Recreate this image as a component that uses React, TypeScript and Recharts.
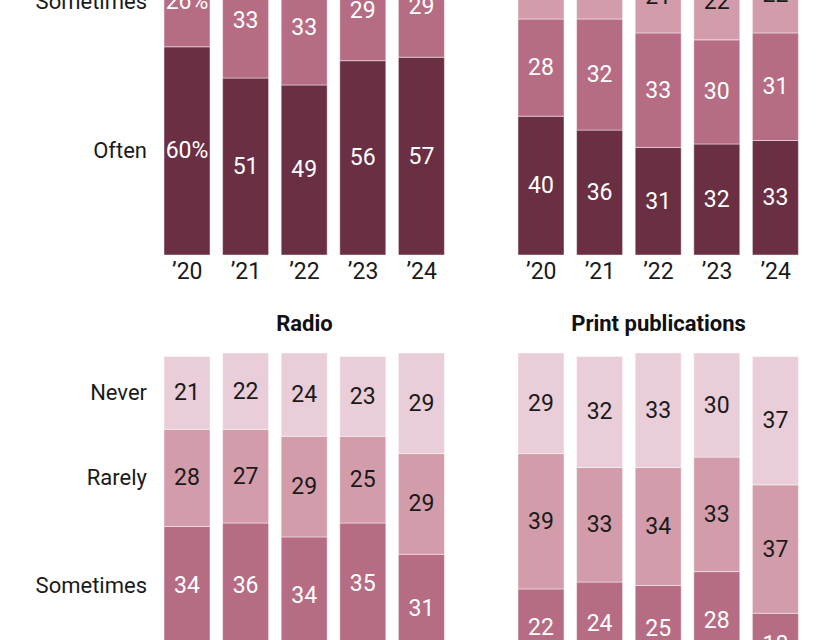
import React from "react"
import { BarChart, Bar, XAxis, YAxis, LabelList } from "recharts"

const years = ["’20", "’21", "’22", "’23", "’24"]

// top left (title cropped)
const digitalOften = [60, 51, 49, 56, 57]
const digitalSometimes = [26, 33, 33, 29, 29]
const digitalRarely = [9, 10, 11, 10, 9]
const digitalNever = [5, 6, 6, 5, 5]

// top right (title cropped)
const tvOften = [40, 36, 31, 32, 33]
const tvSometimes = [28, 32, 33, 30, 31]
const tvRarely = [20, 20, 21, 22, 22]
const tvNever = [11, 12, 15, 16, 14]

const radioOften = [16, 15, 13, 16, 11]
const radioSometimes = [34, 36, 34, 35, 31]
const radioRarely = [28, 27, 29, 25, 29]
const radioNever = [21, 22, 24, 23, 29]

const printOften = [10, 10, 8, 9, 7]
const printSometimes = [22, 24, 25, 28, 18]
const printRarely = [39, 33, 34, 33, 37]
const printNever = [29, 32, 33, 30, 37]

const series = [
  { key: "Often", fill: "#6a2f42", text: "#ffffff" },
  { key: "Sometimes", fill: "#b66c82", text: "#ffffff" },
  { key: "Rarely", fill: "#d39cab", text: "#1a1a1a" },
  { key: "Never", fill: "#e9cdd8", text: "#1a1a1a" },
]

const FONT = "Roboto, sans-serif"
const PLOT_H = 347
const PLOT_W = 293

const build = (o: number[], s: number[], r: number[], n: number[]) =>
  years.map((y, i) => ({ year: y, Often: o[i], Sometimes: s[i], Rarely: r[i], Never: n[i] }))

const makeLabel = (name: string, color: string, rowLabel: boolean, pct: boolean) => (props: any) => {
  const x = Number(props.x)
  const y = Number(props.y)
  const w = Number(props.width)
  const h = Number(props.height)
  const cy = y + h / 2
  return (
    <g>
      <text x={x + w / 2} y={cy} textAnchor="middle" dominantBaseline="central" fill={color} fontSize={23} fontFamily={FONT}>
        {props.value}
        {pct && props.index === 0 ? "%" : ""}
      </text>
      {rowLabel && props.index === 0 && (
        <text x={x - 17} y={cy} textAnchor="end" dominantBaseline="central" fill="#1a1a1a" fontSize={22} fontFamily={FONT}>
          {name}
        </text>
      )}
    </g>
  )
}

function Panel(props: {
  data: any[]
  left: number
  top: number
  marginLeft: number
  width: number
  showAxis: boolean
  rowLabels: boolean
  pct: boolean
}) {
  const { data, left, top, marginLeft, width, showAxis, rowLabels, pct } = props
  return (
    <div style={{ position: "absolute", left, top }}>
      <BarChart
        width={width}
        height={PLOT_H + 40}
        data={data}
        margin={{ top: 0, right: width - marginLeft - PLOT_W, bottom: showAxis ? 0 : 40, left: marginLeft }}
        barSize={46}
      >
        <XAxis
          dataKey="year"
          hide={!showAxis}
          height={40}
          axisLine={false}
          tickLine={false}
          tickSize={0}
          tickMargin={8}
          interval={0}
          tick={{ fontSize: 23, fill: "#1a1a1a", fontFamily: FONT }}
        />
        <YAxis hide domain={[0, 100]} type="number" allowDataOverflow />
        {series.map((s) => (
          <Bar
            key={s.key}
            dataKey={s.key}
            stackId="a"
            fill={s.fill}
            stroke="#ffffff"
            strokeOpacity={0.45}
            strokeWidth={1}
            isAnimationActive={false}
          >
            <LabelList dataKey={s.key} content={makeLabel(s.key, s.text, rowLabels, pct)} />
          </Bar>
        ))}
      </BarChart>
    </div>
  )
}

export default function App() {
  const titleStyle: React.CSSProperties = {
    position: "absolute",
    top: 311,
    width: PLOT_W,
    textAlign: "center",
    fontFamily: FONT,
    fontWeight: 700,
    fontSize: 22,
    color: "#111",
  }
  return (
    <div
      style={{
        position: "fixed",
        left: 0,
        top: 0,
        width: 840,
        height: 640,
        overflow: "hidden",
        background: "#fff",
      }}
    >
      <Panel data={build(digitalOften, digitalSometimes, digitalRarely, digitalNever)} left={0} top={-92} marginLeft={158} width={460} showAxis rowLabels pct />
      <Panel data={build(tvOften, tvSometimes, tvRarely, tvNever)} left={460} top={-92} marginLeft={52} width={380} showAxis rowLabels={false} pct={false} />
      <Panel data={build(radioOften, radioSometimes, radioRarely, radioNever)} left={0} top={353} marginLeft={158} width={460} showAxis={false} rowLabels pct={false} />
      <Panel data={build(printOften, printSometimes, printRarely, printNever)} left={460} top={353} marginLeft={52} width={380} showAxis={false} rowLabels={false} pct={false} />
      <div style={{ ...titleStyle, left: 158 }}>Radio</div>
      <div style={{ ...titleStyle, left: 512 }}>Print publications</div>
    </div>
  )
}
